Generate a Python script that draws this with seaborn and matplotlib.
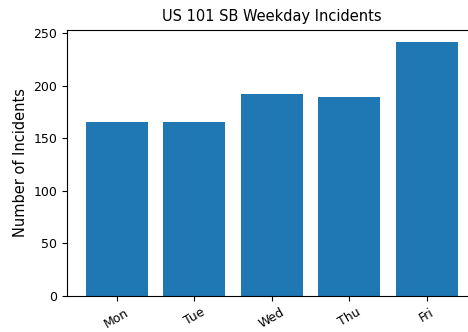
import matplotlib
matplotlib.use("Agg")
import matplotlib.pyplot as plt
import seaborn as sns
import pandas as pd

days = ["Mon", "Tue", "Wed", "Thu", "Fri"]
incidents = [165, 165, 192, 189, 241]

df = pd.DataFrame({"day": days, "incidents": incidents})

fig = plt.figure(figsize=(4.68, 3.32), dpi=100)
ax = fig.add_axes([0.1432, 0.1084, 0.875, 0.802])

sns.barplot(data=df, x="day", y="incidents", color="#1f77b4",
            saturation=1, width=0.8, ax=ax)

ax.set_xlim(-0.64, 4.64)
ax.set_ylim(0, 253.05)
ax.set_yticks([0, 50, 100, 150, 200, 250])
ax.set_xlabel("")
ax.set_ylabel("Number of Incidents", fontsize=10.5)
ax.set_title("US 101 SB Weekday Incidents", fontsize=10.5)
ax.tick_params(axis="both", labelsize=9)
plt.setp(ax.get_xticklabels(), rotation=30)

fig.savefig("out.png", dpi=100)
